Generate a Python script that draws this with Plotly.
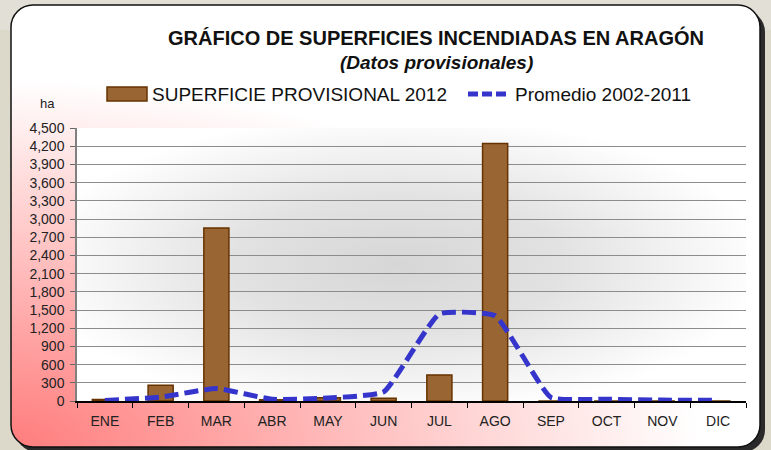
import base64
import plotly.graph_objects as go

# ---- data ----
months = ["ENE", "FEB", "MAR", "ABR", "MAY", "JUN", "JUL", "AGO", "SEP", "OCT", "NOV", "DIC"]
superficie_2012 = [25, 260, 2850, 20, 55, 45, 430, 4245, 0, 0, 0, 0]
promedio_2002_2011 = [10, 65, 205, 28, 50, 150, 1435, 1405, 60, 30, 15, 10]
y_ticks = list(range(0, 4501, 300))

title_text = "GRÁFICO DE SUPERFICIES INCENDIADAS EN ARAGÓN"
subtitle_text = "(Datos provisionales)"
legend_bar = "SUPERFICIE PROVISIONAL 2012"
legend_line = "Promedio 2002-2011"

# ---- geometry ----
W, H = 771, 450
ML, MR, MT, MB = 77, 25, 128, 49
PW, PH = W - ML - MR, H - MT - MB


def px(x):
    return (x - ML) / PW


def py(y):
    return 1 - (y - MT) / PH


BAR_FILL = "#996633"
BAR_EDGE = "#663300"
LINE_COL = "#3535CC"
FONT = "Liberation Sans, Arial, sans-serif"

# ---- background (frame with gradient + plot area radial gradient) ----
svg = f'''<svg xmlns="http://www.w3.org/2000/svg" width="{W}" height="{H}" viewBox="0 0 {W} {H}" preserveAspectRatio="none">
<defs>
<radialGradient id="g1" gradientUnits="userSpaceOnUse" cx="0" cy="450" r="700"
 gradientTransform="translate(0,450) scale(1,0.53) translate(0,-450)">
<stop offset="0" stop-color="#FF7A7A"/>
<stop offset="0.55" stop-color="#FFC4C4"/>
<stop offset="0.9" stop-color="#FFF2F2"/>
<stop offset="1" stop-color="#FFFFFF"/>
</radialGradient>
<radialGradient id="g2" cx="0.48" cy="0.5" r="0.55">
<stop offset="0" stop-color="#D6D6D6"/>
<stop offset="0.45" stop-color="#E2E2E2"/>
<stop offset="1" stop-color="#FFFFFF"/>
</radialGradient>
</defs>
<rect x="0" y="0" width="{W}" height="{H}" fill="#DCD8CA"/>
<rect x="0" y="0" width="{W}" height="30" fill="#E2DFD6"/>
<rect x="15" y="10" width="750" height="442" rx="22" ry="22" fill="#2a2a2a"/>
<rect x="11" y="5" width="749" height="442" rx="22" ry="22" fill="url(#g1)" stroke="#111" stroke-width="1.5"/>
<rect x="{ML}" y="{MT}" width="{PW}" height="{PH}" fill="url(#g2)"/>
</svg>'''
svg_uri = "data:image/svg+xml;base64," + base64.b64encode(svg.encode("utf-8")).decode("ascii")

fig = go.Figure()

fig.add_trace(go.Bar(
    x=months, y=superficie_2012, name=legend_bar,
    marker=dict(color=BAR_FILL, line=dict(color=BAR_EDGE, width=1.5)),
    width=0.45, showlegend=False,
))

fig.add_trace(go.Scatter(
    x=months, y=promedio_2002_2011, name=legend_line, mode="lines",
    line=dict(color=LINE_COL, width=5, dash="14px,6px", shape="spline", smoothing=0.4),
    showlegend=False,
))

fig.add_layout_image(dict(
    source=svg_uri, xref="paper", yref="paper",
    x=px(0), y=py(0), sizex=W / PW, sizey=H / PH,
    xanchor="left", yanchor="top", sizing="stretch", layer="below",
))

# manual legend
shapes = [
    dict(type="rect", xref="paper", yref="paper",
         x0=px(107), x1=px(147), y0=py(101), y1=py(87),
         fillcolor=BAR_FILL, line=dict(color=BAR_EDGE, width=1.5)),
    dict(type="line", xref="paper", yref="paper",
         x0=px(468), x1=px(510), y0=py(94), y1=py(94),
         line=dict(color=LINE_COL, width=5, dash="10px,4px")),
]

annotations = [
    dict(text=f"<b>{title_text}</b>", x=px(436), y=py(37), xref="paper", yref="paper",
         showarrow=False, xanchor="center", yanchor="middle",
         font=dict(family=FONT, size=20, color="#111")),
    dict(text=f"<b><i>{subtitle_text}</i></b>", x=px(436), y=py(63), xref="paper", yref="paper",
         showarrow=False, xanchor="center", yanchor="middle",
         font=dict(family=FONT, size=19, color="#111")),
    dict(text=legend_bar, x=px(150), y=py(94), xref="paper", yref="paper",
         showarrow=False, xanchor="left", yanchor="middle",
         font=dict(family=FONT, size=19, color="#111")),
    dict(text=legend_line, x=px(513), y=py(94), xref="paper", yref="paper",
         showarrow=False, xanchor="left", yanchor="middle",
         font=dict(family=FONT, size=19, color="#111")),
    dict(text="ha", x=px(47), y=py(103), xref="paper", yref="paper",
         showarrow=False, xanchor="center", yanchor="middle",
         font=dict(family=FONT, size=13, color="#222")),
]

fig.update_layout(
    width=W, height=H, autosize=False,
    margin=dict(l=ML, r=MR, t=MT, b=MB, pad=0),
    paper_bgcolor="#DCD8CA", plot_bgcolor="rgba(0,0,0,0)",
    font=dict(family=FONT, color="#222"),
    shapes=shapes, annotations=annotations,
    xaxis=dict(
        type="category", categoryorder="array", categoryarray=months,
        tickson="boundaries", ticks="outside", ticklen=5, tickcolor="#000",
        showline=True, linecolor="#000", linewidth=1.5,
        showgrid=False, tickfont=dict(size=14, color="#222"),
        ticklabelstandoff=6,
    ),
    yaxis=dict(
        range=[0, 4500], tickvals=y_ticks, tickformat=",d",
        ticks="outside", ticklen=5, tickcolor="#666",
        showline=True, linecolor="#808080", linewidth=1.5,
        showgrid=True, gridcolor="#8C8C8C", gridwidth=1,
        zeroline=False, tickfont=dict(size=14, color="#222"),
        ticklabelstandoff=3,
    ),
)

fig.write_html(
    "out.html",
    config={"displayModeBar": False},
    post_script="document.body.style.margin='0px';document.body.style.overflow='hidden';",
)
